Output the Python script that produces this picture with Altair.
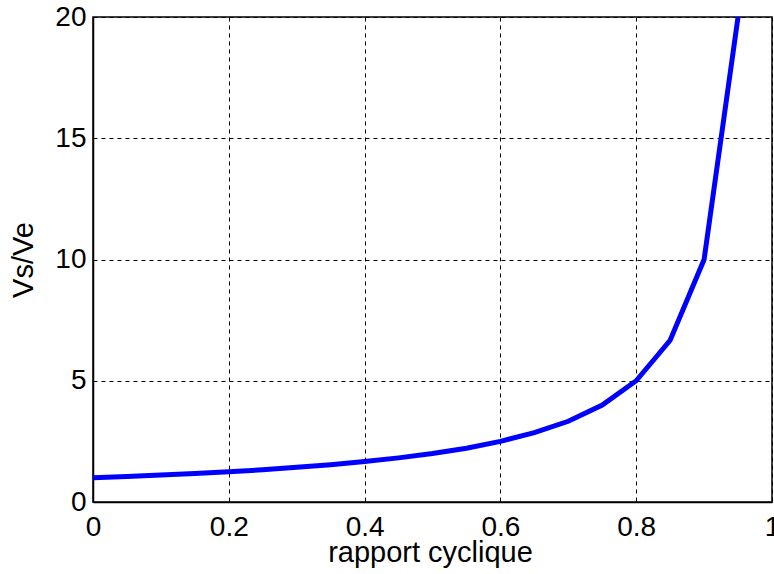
import altair as alt
import pandas as pd

# Values
rapport = [0.0, 0.05, 0.10, 0.15, 0.20, 0.25, 0.30, 0.35, 0.40, 0.45,
           0.50, 0.55, 0.60, 0.65, 0.70, 0.75, 0.80, 0.85, 0.90, 0.95]
vs_ve = [1.00, 1.05, 1.11, 1.18, 1.25, 1.33, 1.43, 1.54, 1.67, 1.82,
         2.00, 2.22, 2.50, 2.86, 3.33, 4.00, 5.00, 6.67, 10.0, 20.0]
x_ticks = [0, 0.2, 0.4, 0.6, 0.8, 1]
y_ticks = [0, 5, 10, 15, 20]

df = pd.DataFrame({"rapport": rapport, "vsve": vs_ve})

FONT = "Liberation Sans"
W, H = 679, 485

chart = (
    alt.Chart(df)
    .mark_line(color="#0000FF", strokeWidth=5, clip=True)
    .encode(
        x=alt.X(
            "rapport:Q",
            scale=alt.Scale(domain=[0, 1], nice=False, zero=False),
            axis=alt.Axis(
                values=x_ticks,
                format="~g",
                title="rapport cyclique",
                titleX=337,
                titleY=59,
                titleBaseline="alphabetic",
                titleAlign="center",
                labelPadding=11,
            ),
        ),
        y=alt.Y(
            "vsve:Q",
            scale=alt.Scale(domain=[0, 20], nice=False),
            axis=alt.Axis(
                values=y_ticks,
                format="~g",
                title="Vs/Ve",
                titleAngle=-90,
                titleX=-70,
                titleY=H / 2,
                titleAlign="center",
                titleBaseline="middle",
                labelPadding=7,
            ),
        ),
    )
    .properties(
        width=W,
        height=H,
        background="white",
        autosize=alt.AutoSizeParams(type="none"),
        padding={"left": 93, "top": 17, "right": 2, "bottom": 72},
    )
    .configure_axis(
        grid=True,
        gridColor="#000000",
        gridDash=[4, 4],
        gridWidth=1,
        gridOpacity=1,
        domain=True,
        domainColor="#000000",
        domainWidth=1.5,
        ticks=False,
        labelFont=FONT,
        labelFontSize=28,
        labelColor="#000000",
        labelFlush=False,
        labelOverlap=False,
        titleFont=FONT,
        titleFontSize=29,
        titleFontWeight="normal",
        titleColor="#000000",
    )
    .configure_view(stroke="#000000", strokeWidth=1.5)
)

chart.save("out.html", embed_options={"renderer": "svg", "actions": False})
